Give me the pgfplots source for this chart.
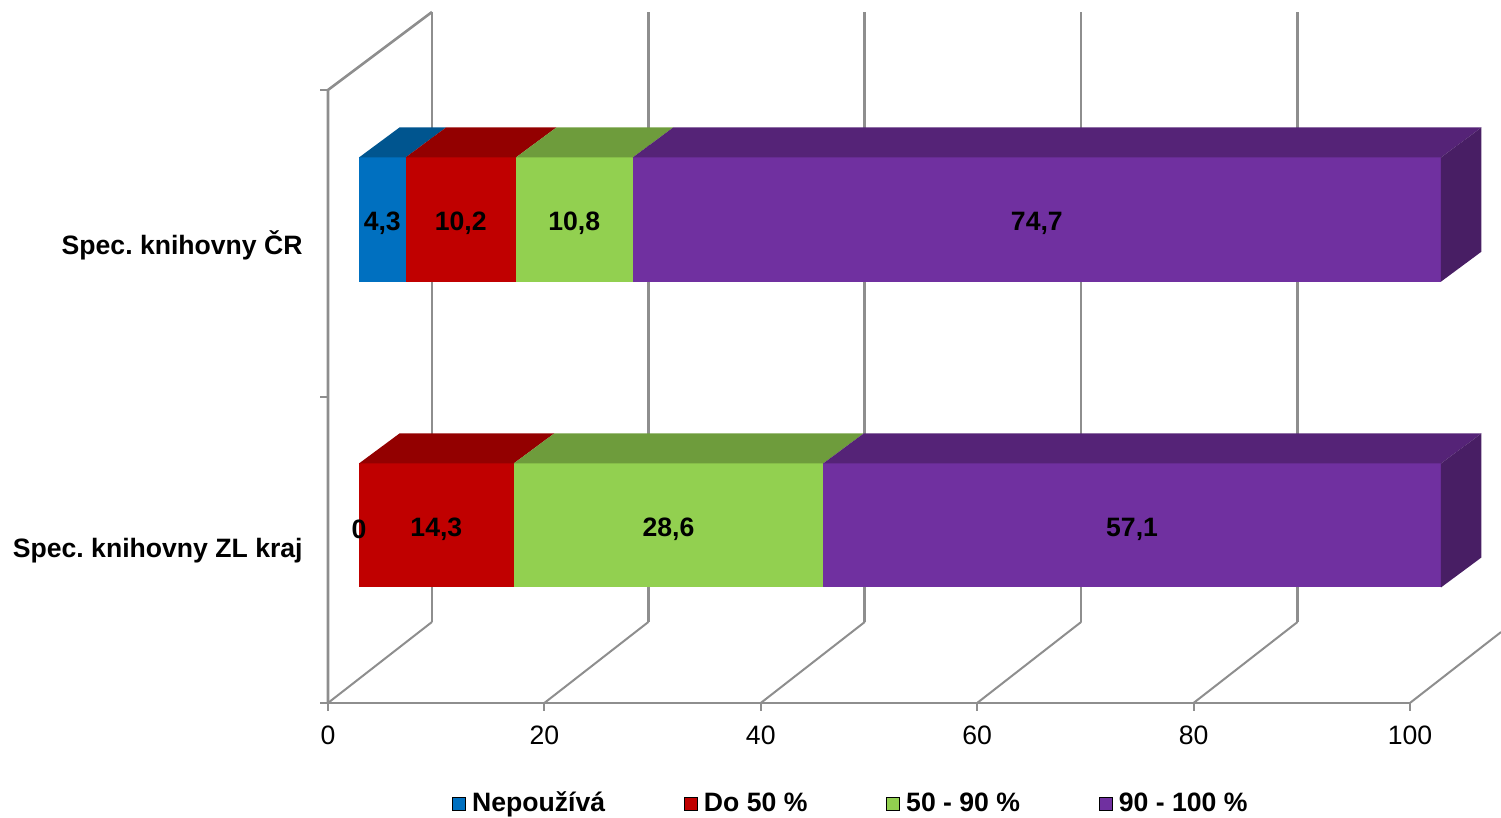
\documentclass[border=0pt]{standalone}
\usepackage{fontspec}
\setmainfont{Liberation Sans}
\usepackage{pgfplots}
\pgfplotsset{compat=1.18}
\definecolor{cBlue}{HTML}{0070C0}
\definecolor{cRed}{HTML}{C00000}
\definecolor{cGreen}{HTML}{92D050}
\definecolor{cPurple}{HTML}{7030A0}
\definecolor{cBlueT}{HTML}{00558F}
\definecolor{cRedT}{HTML}{930000}
\definecolor{cGreenT}{HTML}{6E9C3C}
\definecolor{cPurpleT}{HTML}{552377}
\definecolor{cPurpleS}{HTML}{481E64}
\definecolor{gridgray}{HTML}{8E8E8E}
\pgfplotsset{
  sqlegend/.style={legend image code/.code={\fill[##1] (0pt,-3.25pt) rectangle (6.5pt,3.25pt);}},
}
\frenchspacing
\begin{document}
\fontsize{13.3}{16}\selectfont
\begin{tikzpicture}
\begin{axis}[x=5.41pt, y=0.5pt, xmin=-33.18, xmax=105.55, ymin=0, ymax=818, hide axis,
  legend columns=4,
  legend style={draw=none, fill=none, inner sep=0pt, at={(0.3011,0.0172)}, anchor=west,
    font=\bfseries\fontsize{13.3}{16}\selectfont,
    nodes={inner sep=0pt},
    /tikz/every odd column/.append style={column sep=3pt},
    /tikz/every even column/.append style={column sep=39.5pt}},
  legend cell align=left]
  \path (rel axis cs:0,0) rectangle (rel axis cs:1,1);
  % legend
  \addlegendimage{sqlegend, fill=cBlue}\addlegendentry{Nepoužívá}
  \addlegendimage{sqlegend, fill=cRed}\addlegendentry{Do 50 \%}
  \addlegendimage{sqlegend, fill=cGreen}\addlegendentry{50 - 90 \%}
  \addlegendimage{sqlegend, fill=cPurple}\addlegendentry{90 - 100 \%}
  % left wall
  \draw[gridgray, line width=1.3pt] (axis cs:-2.865,115) -- (axis cs:-2.865,728) -- (axis cs:6.747,806);
  % back wall verticals
  \draw[gridgray, line width=1.3pt] (axis cs:6.747,196) -- (axis cs:6.747,806);
  \draw[gridgray, line width=1.3pt] (axis cs:26.747,196) -- (axis cs:26.747,806);
  \draw[gridgray, line width=1.3pt] (axis cs:46.747,196) -- (axis cs:46.747,806);
  \draw[gridgray, line width=1.3pt] (axis cs:66.747,196) -- (axis cs:66.747,806);
  \draw[gridgray, line width=1.3pt] (axis cs:86.747,196) -- (axis cs:86.747,806);
  % floor front line
  \draw[gridgray, line width=1.3pt] (axis cs:-3.604,115) -- (axis cs:97.135,115);
  % floor diagonals
  \draw[gridgray, line width=1pt] (axis cs:-2.865,115) -- (axis cs:6.747,196);
  \draw[gridgray, line width=1pt] (axis cs:17.135,115) -- (axis cs:26.747,196);
  \draw[gridgray, line width=1pt] (axis cs:37.135,115) -- (axis cs:46.747,196);
  \draw[gridgray, line width=1pt] (axis cs:57.135,115) -- (axis cs:66.747,196);
  \draw[gridgray, line width=1pt] (axis cs:77.135,115) -- (axis cs:86.747,196);
  \draw[gridgray, line width=1pt] (axis cs:97.135,115) -- (axis cs:105.55,185.9);
  % ticks
  \draw[gridgray, line width=1pt] (axis cs:-2.865,115) -- (axis cs:-2.865,107);
  \draw[gridgray, line width=1pt] (axis cs:17.135,115) -- (axis cs:17.135,107);
  \draw[gridgray, line width=1pt] (axis cs:37.135,115) -- (axis cs:37.135,107);
  \draw[gridgray, line width=1pt] (axis cs:57.135,115) -- (axis cs:57.135,107);
  \draw[gridgray, line width=1pt] (axis cs:77.135,115) -- (axis cs:77.135,107);
  \draw[gridgray, line width=1pt] (axis cs:97.135,115) -- (axis cs:97.135,107);
  \draw[gridgray, line width=1pt] (axis cs:-3.604,421) -- (axis cs:-2.865,421);
  \draw[gridgray, line width=1pt] (axis cs:-3.604,728) -- (axis cs:-2.865,728);
  \begin{scope}[every node/.style={font=\fontsize{13.3}{16}\selectfont, anchor=center}]
  \node at (axis cs:-2.865,83) {0};
  \node at (axis cs:17.135,83) {20};
  \node at (axis cs:37.135,83) {40};
  \node at (axis cs:57.135,83) {60};
  \node at (axis cs:77.135,83) {80};
  \node at (axis cs:97.135,83) {100};
  \end{scope}
  % category labels
  \node[font=\bfseries\fontsize{13.3}{16}\selectfont, anchor=east, inner sep=0pt] at (axis cs:-5.175,573) {Spec. knihovny ČR};
  \node[font=\bfseries\fontsize{13.3}{16}\selectfont, anchor=east, inner sep=0pt] at (axis cs:-5.175,267) {Spec. knihovny ZL kraj};
  % ===== Spec. knihovny CR: 4,3 / 10,2 / 10,8 / 74,7 (stack ends 4.3, 14.5, 25.3, 100)
  \addplot[fill=cBlue, draw=none] coordinates {(0,536.3) (4.3,536.3) (4.3,660.5) (0,660.5)} --cycle;
  \addplot[fill=cRed, draw=none] coordinates {(4.3,536.3) (14.5,536.3) (14.5,660.5) (4.3,660.5)} --cycle;
  \addplot[fill=cGreen, draw=none] coordinates {(14.5,536.3) (25.3,536.3) (25.3,660.5) (14.5,660.5)} --cycle;
  \addplot[fill=cPurple, draw=none] coordinates {(25.3,536.3) (100,536.3) (100,660.5) (25.3,660.5)} --cycle;
  \addplot[fill=cBlueT, draw=none] coordinates {(0,660.5) (4.3,660.5) (8.043,690.5) (3.743,690.5)} --cycle;
  \addplot[fill=cRedT, draw=none] coordinates {(4.3,660.5) (14.5,660.5) (18.243,690.5) (8.043,690.5)} --cycle;
  \addplot[fill=cGreenT, draw=none] coordinates {(14.5,660.5) (25.3,660.5) (29.043,690.5) (18.243,690.5)} --cycle;
  \addplot[fill=cPurpleT, draw=none] coordinates {(25.3,660.5) (100,660.5) (103.743,690.5) (29.043,690.5)} --cycle;
  \addplot[fill=cPurpleS, draw=none] coordinates {(100,536.3) (100,660.5) (103.743,690.5) (103.743,566.3)} --cycle;
  % ===== Spec. knihovny ZL kraj: 0 / 14,3 / 28,6 / 57,1 (stack ends 0, 14.3, 42.9, 100)
  \addplot[fill=cRed, draw=none] coordinates {(0,230.5) (14.3,230.5) (14.3,354.5) (0,354.5)} --cycle;
  \addplot[fill=cGreen, draw=none] coordinates {(14.3,230.5) (42.9,230.5) (42.9,354.5) (14.3,354.5)} --cycle;
  \addplot[fill=cPurple, draw=none] coordinates {(42.9,230.5) (100,230.5) (100,354.5) (42.9,354.5)} --cycle;
  \addplot[fill=cRedT, draw=none] coordinates {(0,354.5) (14.3,354.5) (18.043,384.5) (3.743,384.5)} --cycle;
  \addplot[fill=cGreenT, draw=none] coordinates {(14.3,354.5) (42.9,354.5) (46.643,384.5) (18.043,384.5)} --cycle;
  \addplot[fill=cPurpleT, draw=none] coordinates {(42.9,354.5) (100,354.5) (103.743,384.5) (46.643,384.5)} --cycle;
  \addplot[fill=cPurpleS, draw=none] coordinates {(100,230.5) (100,354.5) (103.743,384.5) (103.743,260.5)} --cycle;
  % value labels
  \begin{scope}[every node/.style={font=\bfseries\fontsize{13.3}{16}\selectfont, anchor=center}]
  \node at (axis cs:2.15,594.3) {4,3};
  \node at (axis cs:9.4,594.3) {10,2};
  \node at (axis cs:19.9,594.3) {10,8};
  \node at (axis cs:62.65,594.3) {74,7};
  \node at (axis cs:0,288.5) {0};
  \node at (axis cs:7.15,288.5) {14,3};
  \node at (axis cs:28.6,288.5) {28,6};
  \node at (axis cs:71.45,288.5) {57,1};
  \end{scope}
\end{axis}
\end{tikzpicture}
\end{document}
